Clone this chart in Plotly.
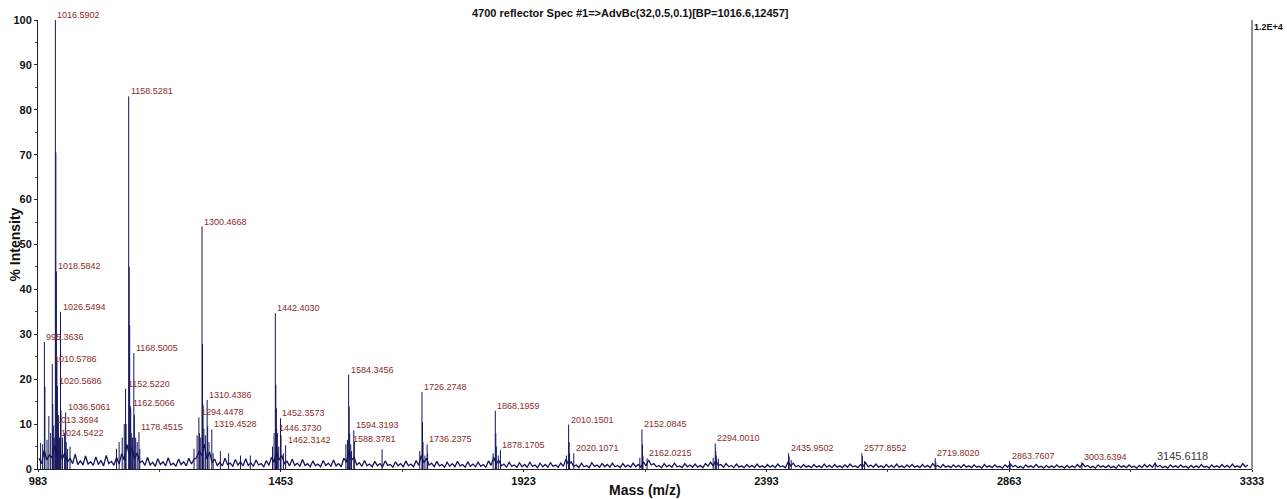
import plotly.graph_objects as go

# ---------------- data ----------------
x_tick_values = [983, 1453, 1923, 2393, 2863, 3333]
title_text = "4700 reflector Spec #1=>AdvBc(32,0.5,0.1)[BP=1016.6,12457]"
scale_text = "1.2E+4"

# labelled peaks (m/z, % intensity)
labeled_mass = [995.3636, 1010.5786, 1013.3694, 1016.5902, 1018.5842, 1020.5686, 1024.5422,
                1026.5494, 1036.5061, 1152.5220, 1158.5281, 1162.5066, 1168.5005, 1178.4515,
                1294.4478, 1300.4668, 1310.4386, 1319.4528, 1442.4030, 1446.3730, 1452.3573,
                1462.3142, 1584.3456, 1588.3781, 1594.3193, 1726.2748, 1736.2375, 1868.1959,
                1878.1705, 2010.1501, 2020.1071, 2152.0845, 2162.0215, 2294.0010, 2435.9502,
                2577.8552, 2719.8020, 2863.7607, 3003.6394, 3145.6118]
labeled_intensity = [28.3, 23.4, 9.7, 100.0, 44.0, 18.5, 7.0,
                     35.0, 12.6, 17.9, 83.0, 13.5, 25.8, 8.2,
                     11.5, 54.0, 15.4, 8.8, 34.7, 8.0, 11.3,
                     5.3, 21.0, 5.5, 8.6, 17.2, 5.5, 13.0,
                     4.2, 9.9, 3.5, 8.8, 2.4, 5.7, 3.5,
                     3.5, 2.4, 1.8, 1.5, 1.5]

# unlabelled peaks (isotopes and small spikes)
minor_mass = [988.0, 992.0, 996.4, 1000.5, 1004.0, 1007.5, 1011.6, 1014.4, 1017.6, 1019.6,
              1021.6, 1022.5, 1027.5, 1030.5, 1034.5, 1037.5, 1040.0, 1045.0,
              1135.0, 1140.0, 1146.0, 1150.0, 1153.5, 1159.5, 1160.5, 1161.5, 1163.5,
              1166.0, 1169.5, 1172.0, 1175.0, 1180.0,
              1285.0, 1291.0, 1295.4, 1298.0, 1301.5, 1302.5, 1304.0, 1307.0, 1311.4,
              1314.0, 1322.0, 1336.0, 1352.0, 1375.0, 1394.0,
              1437.0, 1440.0, 1443.4, 1444.4, 1445.0, 1449.0, 1453.4, 1458.0,
              1579.0, 1582.0, 1585.35, 1586.35, 1590.0, 1595.3, 1649.0,
              1722.0, 1727.3, 1728.3, 1732.0, 1737.2,
              1864.0, 1869.2, 1870.2, 1874.0,
              2006.0, 2011.15, 2012.0, 2148.0, 2153.1, 2154.0,
              2290.0, 2295.0, 2296.0, 2300.0, 2437.0, 2441.0, 2579.0, 2583.0, 2721.0, 2865.0]
minor_intensity = [5.8, 5.5, 18.3, 6.5, 11.8, 8.0, 14.5, 7.0, 70.5, 25.0,
                   9.0, 12.0, 13.0, 7.0, 8.0, 6.0, 4.5, 5.0,
                   4.5, 6.0, 7.0, 10.0, 10.0, 45.0, 32.0, 14.0, 8.0,
                   7.0, 12.0, 7.0, 6.0, 4.5,
                   4.5, 7.5, 8.0, 7.0, 27.8, 14.3, 9.0, 7.5, 9.5,
                   6.0, 3.5, 4.0, 3.5, 3.0, 3.0,
                   5.0, 8.0, 18.8, 13.5, 9.0, 5.0, 7.5, 3.5,
                   5.5, 6.5, 13.9, 8.0, 4.0, 6.0, 4.4,
                   4.0, 10.4, 6.0, 3.0, 3.5,
                   3.5, 8.0, 5.0, 3.0,
                   3.0, 6.0, 3.5, 2.5, 5.5, 3.0,
                   2.5, 4.0, 3.0, 2.3, 2.8, 2.0, 2.8, 1.8, 1.5, 1.2]

# baseline noise: crests read every 10 Da from 985, troughs every 10 Da from 990
noise_start = 985
noise_step = 10
noise_crest = [
    2.4, 4.2, 3.1, 5.2, 4.0, 3.6, 2.4, 3.3, 1.8, 2.9,
    1.6, 2.7, 1.9, 3.0, 1.7, 2.6, 3.4, 5.5, 4.8, 3.6,
    1.8, 2.6, 1.5, 2.3, 1.6, 2.5, 1.3, 2.2, 1.6, 2.4,
    2.2, 4.0, 5.5, 3.8, 2.2, 1.5, 2.4, 1.3, 2.1, 1.6,
    2.3, 1.4, 2.0, 1.2, 1.9, 2.6, 4.0, 3.0, 1.7, 2.2,
    1.3, 2.1, 1.2, 1.8, 1.1, 1.9, 1.3, 2.0, 1.2, 2.4,
    4.0, 2.6, 1.4, 1.9, 1.1, 1.7, 1.2, 1.8, 1.0, 1.6,
    1.2, 1.8, 1.1, 1.9, 3.0, 2.4, 1.3, 1.7, 1.0, 1.5,
    1.2, 1.7, 1.0, 1.6, 1.1, 1.5, 1.0, 1.8, 2.6, 1.9,
    1.1, 1.5, 0.9, 1.4, 1.0, 1.5, 0.9, 1.3, 1.0, 1.4,
    0.9, 1.3, 2.2, 1.6, 0.9, 1.3, 0.8, 1.4, 0.9, 1.2,
    1.0, 1.3, 0.8, 1.2, 0.9, 1.3, 1.0, 1.6, 2.0, 1.2,
    0.8, 1.2, 0.9, 1.3, 0.7, 1.2, 0.9, 1.1, 0.8, 1.2,
    1.5, 1.9, 1.0, 1.2, 0.8, 1.1, 0.7, 1.0, 0.8, 1.1,
    0.7, 1.0, 0.8, 1.1, 0.7, 1.6, 1.3, 0.8, 1.0, 0.7,
    1.0, 0.7, 1.1, 0.8, 1.0, 0.7, 0.9, 1.1, 0.7, 1.0,
    1.4, 0.9, 1.1, 0.7, 1.0, 0.8, 1.1, 0.7, 0.9, 1.0,
    0.7, 1.0, 0.8, 1.2, 0.8, 1.0, 0.7, 0.9, 0.8, 1.0,
    0.7, 0.9, 0.6, 1.0, 0.7, 0.9, 0.6, 0.9, 1.1, 0.8,
    0.6, 0.9, 0.7, 1.0, 0.6, 0.8, 0.7, 0.9, 0.6, 0.8,
    0.7, 1.0, 1.2, 0.8, 0.6, 0.9, 0.7, 0.8, 0.6, 0.9,
    0.7, 0.9, 0.6, 0.8, 1.0, 0.9, 1.2, 0.8, 0.6, 0.9,
    0.7, 0.9, 0.6, 0.8, 0.7, 1.0, 0.6, 0.9, 0.7, 1.0,
    0.8, 1.1, 0.7, 1.2, 0.9,
]
noise_trough = [
    1.2, 2.0, 2.5, 3.0, 2.2, 1.5, 1.2, 1.0, 0.9, 1.1,
    0.8, 1.0, 0.7, 1.2, 0.8, 1.1, 2.0, 3.0, 2.2, 1.4,
    0.8, 0.9, 0.6, 1.0, 0.7, 0.9, 0.6, 1.0, 0.7, 1.1,
    2.5, 3.0, 2.2, 1.4, 0.8, 0.7, 1.0, 0.6, 0.9, 0.7,
    0.8, 0.6, 0.9, 0.5, 0.8, 1.5, 2.0, 1.2, 0.7, 0.8,
    0.6, 0.8, 0.5, 0.7, 0.5, 0.8, 0.6, 0.7, 0.5, 1.5,
    2.0, 0.9, 0.6, 0.7, 0.5, 0.7, 0.5, 0.8, 0.4, 0.7,
    0.5, 0.7, 0.5, 0.8, 1.4, 0.9, 0.5, 0.7, 0.4, 0.6,
    0.5, 0.7, 0.4, 0.6, 0.5, 0.6, 0.4, 0.8, 1.2, 0.7,
    0.4, 0.6, 0.4, 0.5, 0.4, 0.6, 0.3, 0.5, 0.4, 0.6,
    0.4, 0.6, 1.0, 0.6, 0.3, 0.5, 0.3, 0.6, 0.4, 0.5,
    0.4, 0.5, 0.3, 0.5, 0.4, 0.5, 0.4, 0.7, 0.9, 0.5,
    0.3, 0.5, 0.4, 0.5, 0.3, 0.5, 0.4, 0.4, 0.3, 0.6,
    0.7, 0.8, 0.4, 0.5, 0.3, 0.4, 0.3, 0.4, 0.3, 0.4,
    0.3, 0.4, 0.3, 0.5, 0.3, 0.7, 0.5, 0.3, 0.4, 0.3,
    0.4, 0.3, 0.4, 0.3, 0.4, 0.3, 0.4, 0.5, 0.3, 0.6,
    0.5, 0.4, 0.4, 0.3, 0.4, 0.3, 0.4, 0.3, 0.4, 0.4,
    0.3, 0.4, 0.3, 0.5, 0.3, 0.4, 0.3, 0.4, 0.3, 0.4,
    0.3, 0.4, 0.2, 0.4, 0.3, 0.4, 0.2, 0.4, 0.5, 0.3,
    0.2, 0.4, 0.3, 0.4, 0.2, 0.3, 0.3, 0.4, 0.2, 0.3,
    0.3, 0.4, 0.5, 0.3, 0.2, 0.4, 0.3, 0.3, 0.2, 0.4,
    0.3, 0.4, 0.2, 0.3, 0.4, 0.4, 0.5, 0.3, 0.2, 0.4,
    0.3, 0.4, 0.2, 0.3, 0.3, 0.4, 0.2, 0.4, 0.3, 0.4,
    0.3, 0.4, 0.3, 0.5,
]
noise_mass, noise_intensity = [], []
for i, c in enumerate(noise_crest):
    noise_mass.append(noise_start + i * noise_step)
    noise_intensity.append(c)
    if i < len(noise_trough):
        noise_mass.append(noise_start + i * noise_step + noise_step / 2)
        noise_intensity.append(noise_trough[i])

# ---------------- styles ----------------
LINE = "#15155a"
LABEL_RED = "#8b2c2c"
FONT = "Liberation Sans, Arial, sans-serif"

# build stick segments from the peak lists
stick_x, stick_y = [], []
for m, h in zip(minor_mass + labeled_mass, minor_intensity + labeled_intensity):
    stick_x += [m, m, None]
    stick_y += [0, h, None]

fig = go.Figure()
fig.add_trace(go.Scatter(x=noise_mass, y=noise_intensity, mode="lines",
                         line=dict(color=LINE, width=1.3), hoverinfo="skip", showlegend=False))
fig.add_trace(go.Scatter(x=stick_x, y=stick_y, mode="lines",
                         line=dict(color=LINE, width=1), hoverinfo="skip", showlegend=False))

annotations = []
for m, h in zip(labeled_mass, labeled_intensity):
    last = (m == labeled_mass[-1])
    annotations.append(dict(
        x=m, y=h, xref="x", yref="y", text=f"{m:.4f}", showarrow=False,
        xanchor="left", yanchor="bottom", xshift=0, yshift=-2,
        font=dict(family=FONT, size=11 if last else 9,
                  color="#3a3a3a" if last else LABEL_RED)))

annotations.append(dict(x=0.488, y=1, xref="paper", yref="paper", text=title_text,
                        showarrow=False, xanchor="center", yanchor="bottom", yshift=-1,
                        font=dict(family=FONT, size=11, color="#111", weight="bold")))
annotations.append(dict(x=1, y=1, xref="paper", yref="paper", text=scale_text,
                        showarrow=False, xanchor="left", yanchor="top", xshift=0, yshift=0,
                        font=dict(family=FONT, size=9, color="#111", weight="bold")))
annotations.append(dict(x=0, y=0.5, xref="paper", yref="paper", text="% Intensity",
                        showarrow=False, xanchor="center", yanchor="middle", xshift=-24,
                        textangle=-90,
                        font=dict(family=FONT, size=14, color="#111", weight="bold")))
annotations.append(dict(x=0.5, y=0, xref="paper", yref="paper", text="Mass (m/z)",
                        showarrow=False, xanchor="center", yanchor="middle", yshift=-21,
                        font=dict(family=FONT, size=14, color="#111", weight="bold")))

fig.update_layout(
    width=1287, height=499,
    margin=dict(l=38, r=35, t=20, b=26),
    plot_bgcolor="white", paper_bgcolor="white",
    annotations=annotations,
    shapes=[dict(type="line", xref="paper", yref="paper", x0=1, x1=1, y0=0, y1=1,
                 line=dict(color="#222", width=1))],
)
fig.update_xaxes(range=[983, 3333], tickvals=x_tick_values,
                 ticktext=[str(v) for v in x_tick_values],
                 ticks="outside", ticklen=2, tickcolor="#222",
                 minor=dict(tick0=983 + 235, dtick=470, ticks="outside", ticklen=2, tickcolor="#444"),
                 showline=True, linecolor="#222", linewidth=1, showgrid=False, zeroline=False,
                 tickfont=dict(family=FONT, size=11, color="#111", weight="bold"))
fig.update_yaxes(range=[0, 100], dtick=10, ticks="outside", ticklen=3, tickcolor="#222",
                 minor=dict(dtick=5, ticks="outside", ticklen=2, tickcolor="#444"),
                 showline=True, linecolor="#222", linewidth=1, showgrid=False, zeroline=False,
                 tickfont=dict(family=FONT, size=11, color="#111", weight="bold"))

fig.write_html("out.html", config={"displayModeBar": False},
               post_script="document.body.style.margin='0';document.body.style.overflow='hidden';")
